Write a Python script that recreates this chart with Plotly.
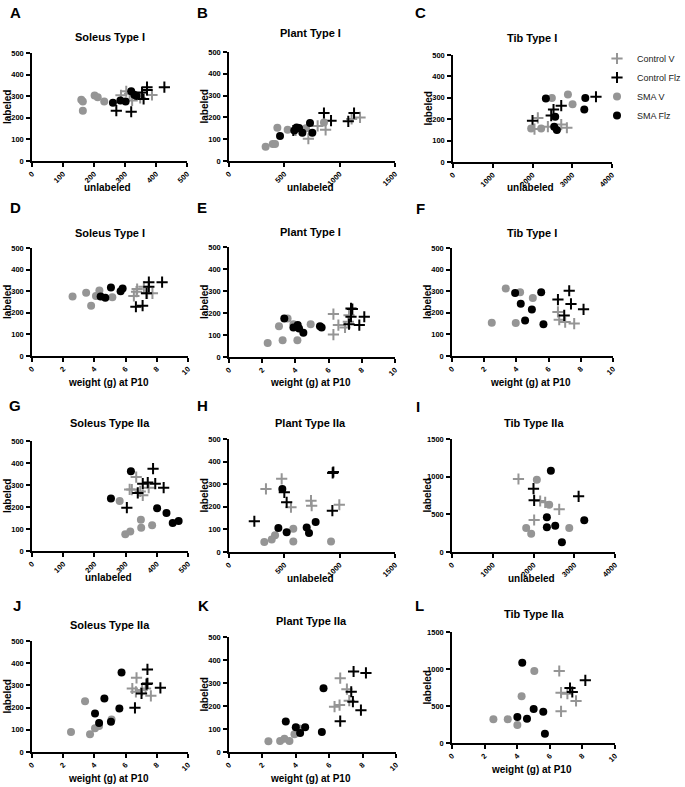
import plotly.graph_objects as go

# ---- data ----
# A: Soleus Type I, labeled vs unlabeled
A_cv_x = [287, 304, 323, 349, 387, 315]
A_cv_y = [304, 323, 280, 292, 306, 311]
A_cf_x = [272, 320, 355, 371, 371, 360, 427]
A_cf_y = [233, 228, 317, 342, 329, 287, 342]
A_sv_x = [159, 164, 164, 202, 212, 233]
A_sv_y = [284, 275, 233, 303, 295, 276]
A_sf_x = [261, 285, 302, 320, 330, 337]
A_sf_y = [270, 280, 276, 323, 307, 301]

# B: Plant Type I, labeled vs unlabeled
B_cv_x = [602, 717, 801, 873, 1108, 1184]
B_cv_y = [140, 102, 161, 143, 193, 200]
B_cf_x = [581, 858, 922, 1078, 1130]
B_cf_y = [140, 220, 185, 182, 220]
B_sv_x = [331, 395, 416, 437, 530, 696, 858]
B_sv_y = [65, 78, 78, 152, 143, 150, 177]
B_sf_x = [461, 590, 633, 663, 732, 753, 611]
B_sf_y = [115, 140, 151, 130, 174, 130, 154]

# C: Tib Type I, labeled vs unlabeled
C_cv_x = [2050, 2134, 2387, 2723, 2865]
C_cv_y = [154, 206, 165, 175, 160]
C_cf_x = [2000, 2471, 2529, 2723, 3597]
C_cf_y = [193, 217, 245, 263, 305]
C_sv_x = [1966, 2218, 2487, 2891, 3008]
C_sv_y = [157, 157, 299, 316, 270]
C_sf_x = [2336, 2571, 2546, 2613, 3328, 3303]
C_sf_y = [297, 212, 165, 149, 299, 245]

# D: Soleus Type I, labeled vs weight
D_cv_x = [6.53, 6.74, 7.17, 7.38, 7.72, 6.7]
D_cv_y = [278, 310, 321, 290, 290, 298]
D_cf_x = [6.66, 7.09, 7.34, 7.49, 7.49, 8.34]
D_cf_y = [228, 233, 290, 342, 321, 342]
D_sv_x = [2.6, 3.47, 3.79, 4.1, 4.32, 5.15]
D_sv_y = [275, 293, 233, 278, 303, 272]
D_sf_x = [4.4, 4.7, 5.06, 5.68, 5.81]
D_sf_y = [276, 270, 317, 300, 312]

# E: Plant Type I, labeled vs weight
E_cv_x = [6.29, 6.29, 6.59, 6.99, 7.19, 7.23]
E_cv_y = [195, 102, 145, 134, 160, 190]
E_cf_x = [7.35, 7.43, 7.35, 7.23, 7.85, 8.15]
E_cf_y = [221, 218, 183, 149, 145, 183]
E_sv_x = [2.33, 3.01, 3.23, 3.53, 3.88, 4.12, 4.92]
E_sv_y = [64, 140, 76, 175, 149, 76, 149]
E_sf_x = [3.33, 3.88, 4.14, 4.22, 4.48, 5.48, 5.58]
E_sf_y = [175, 134, 145, 130, 110, 140, 134]

# F: Tib Type I, labeled vs weight
F_cv_x = [6.58, 6.66, 7.03, 7.59]
F_cv_y = [204, 168, 157, 150]
F_cf_x = [6.58, 7.28, 7.39, 6.97, 8.17]
F_cf_y = [261, 302, 241, 188, 216]
F_sv_x = [2.47, 3.34, 3.96, 4.23, 5.02]
F_sv_y = [154, 312, 153, 295, 269]
F_sf_x = [3.92, 4.27, 4.54, 4.96, 5.54, 5.68]
F_sf_y = [292, 242, 164, 215, 295, 147]

# G: Soleus Type IIa, labeled vs unlabeled
G_cv_x = [313, 320, 334, 347, 355, 374]
G_cv_y = [280, 279, 336, 271, 253, 288]
G_cf_x = [304, 339, 355, 371, 388, 395, 422]
G_cf_y = [197, 264, 306, 311, 374, 306, 288]
G_sv_x = [299, 315, 281, 349, 350, 385]
G_sv_y = [76, 89, 227, 142, 106, 117]
G_sf_x = [253, 317, 401, 431, 451, 470]
G_sf_y = [239, 362, 194, 173, 127, 136]

# H: Plant Type IIa, labeled vs unlabeled
H_cv_x = [334, 476, 560, 741, 747, 997]
H_cv_y = [279, 324, 198, 227, 205, 209]
H_cf_x = [229, 500, 521, 934, 937, 943]
H_cf_y = [136, 264, 220, 183, 350, 354]
H_sv_x = [319, 386, 416, 581, 581, 922]
H_sv_y = [44, 55, 74, 103, 47, 47]
H_sf_x = [446, 521, 482, 702, 723, 783]
H_sf_y = [106, 87, 279, 108, 84, 133]

# I: Tib Type IIa, labeled vs unlabeled
I_cv_x = [1631, 2016, 2164, 2287, 2631]
I_cv_y = [969, 425, 677, 659, 566]
I_cf_x = [2000, 2016, 3107]
I_cf_y = [841, 686, 739]
I_sv_x = [1820, 1943, 2082, 2385, 2877]
I_sv_y = [319, 243, 960, 628, 319]
I_sf_x = [2426, 2328, 2328, 2533, 2697, 3246]
I_sf_y = [1080, 460, 327, 350, 128, 420]

# J: Soleus Type IIa, labeled vs weight
J_cv_x = [6.43, 6.66, 6.7, 7.06, 7.28, 7.62]
J_cv_y = [286, 271, 334, 279, 286, 253]
J_cf_x = [6.6, 7.02, 7.34, 7.4, 7.4, 8.23]
J_cf_y = [199, 264, 306, 372, 309, 289]
J_sv_x = [2.5, 3.4, 3.72, 4.04, 4.3, 5.1]
J_sv_y = [90, 229, 80, 107, 117, 146]
J_sf_x = [4.04, 4.3, 4.64, 5.06, 5.6, 5.74]
J_sf_y = [173, 131, 241, 136, 196, 358]

# K: Plant Type IIa, labeled vs weight
K_cv_x = [6.32, 6.62, 6.66, 7.06, 7.2]
K_cv_y = [197, 204, 321, 273, 223]
K_cf_x = [6.66, 7.32, 7.42, 7.9, 7.46, 8.2]
K_cf_y = [134, 262, 219, 182, 350, 344]
K_sv_x = [2.36, 3.06, 3.32, 3.62, 3.92, 4.2]
K_sv_y = [47, 48, 58, 48, 77, 102]
K_sf_x = [3.4, 4.0, 4.26, 4.56, 5.56, 5.66]
K_sf_y = [133, 108, 83, 108, 87, 277]

# L: Tib Type IIa, labeled vs weight
L_cv_x = [6.58, 6.69, 7.08, 6.69, 7.61]
L_cv_y = [973, 680, 667, 428, 568]
L_cf_x = [7.24, 7.38, 8.18]
L_cf_y = [743, 689, 847]
L_sv_x = [2.54, 3.42, 4.01, 4.27, 5.05]
L_sv_y = [320, 320, 243, 631, 973]
L_sf_x = [4.01, 4.31, 4.6, 5.01, 5.6, 5.7]
L_sf_y = [351, 1086, 329, 459, 423, 126]

group_names = ["Control V", "Control Flz", "SMA V", "SMA Flz"]

# ---- panel layout (pixel boxes in a 685x787 page) ----
W, H = 685, 787
panels = [
    # letter, title, xtitle, xmax, xticks, ymax, yticks, box(x0,x1,y0,y1), letter pos, title pos
    ("A", "Soleus Type I", "unlabeled", 500, [0, 100, 200, 300, 400, 500], 500,
     [0, 100, 200, 300, 400, 500], (32, 187, 53, 161), (15, 12), (110, 37),
     (A_cv_x, A_cv_y, A_cf_x, A_cf_y, A_sv_x, A_sv_y, A_sf_x, A_sf_y)),
    ("B", "Plant Type I", "unlabeled", 1500, [0, 500, 1000, 1500], 500,
     [0, 100, 200, 300, 400, 500], (229, 395, 52, 161), (202, 12), (310, 33),
     (B_cv_x, B_cv_y, B_cf_x, B_cf_y, B_sv_x, B_sv_y, B_sf_x, B_sf_y)),
    ("C", "Tib Type I", "unlabeled", 4000, [0, 1000, 2000, 3000, 4000], 500,
     [0, 100, 200, 300, 400, 500], (453, 612, 55, 162), (420, 12), (532, 38),
     (C_cv_x, C_cv_y, C_cf_x, C_cf_y, C_sv_x, C_sv_y, C_sf_x, C_sf_y)),
    ("D", "Soleus Type I", "weight (g) at P10", 10, [0, 2, 4, 6, 8, 10], 500,
     [0, 100, 200, 300, 400, 500], (32, 188, 248, 356), (15, 207), (110, 233),
     (D_cv_x, D_cv_y, D_cf_x, D_cf_y, D_sv_x, D_sv_y, D_sf_x, D_sf_y)),
    ("E", "Plant Type I", "weight (g) at P10", 10, [0, 2, 4, 6, 8, 10], 500,
     [0, 100, 200, 300, 400, 500], (229, 395, 247, 357), (202, 207), (310, 232),
     (E_cv_x, E_cv_y, E_cf_x, E_cf_y, E_sv_x, E_sv_y, E_sf_x, E_sf_y)),
    ("F", "Tib Type I", "weight (g) at P10", 10, [0, 2, 4, 6, 8, 10], 500,
     [0, 100, 200, 300, 400, 500], (452, 613, 248, 356), (420, 208), (532, 233),
     (F_cv_x, F_cv_y, F_cf_x, F_cf_y, F_sv_x, F_sv_y, F_sf_x, F_sf_y)),
    ("G", "Soleus Type IIa", "unlabeled", 500, [0, 100, 200, 300, 400, 500], 500,
     [0, 100, 200, 300, 400, 500], (32, 188, 441, 551), (15, 405), (110, 423),
     (G_cv_x, G_cv_y, G_cf_x, G_cf_y, G_sv_x, G_sv_y, G_sf_x, G_sf_y)),
    ("H", "Plant Type IIa", "unlabeled", 1500, [0, 500, 1000, 1500], 500,
     [0, 100, 200, 300, 400, 500], (229, 395, 439, 552), (202, 405), (310, 423),
     (H_cv_x, H_cv_y, H_cf_x, H_cf_y, H_sv_x, H_sv_y, H_sf_x, H_sf_y)),
    ("I", "Tib Type IIa", "unlabeled", 4000, [0, 1000, 2000, 3000, 4000], 1500,
     [0, 500, 1000, 1500], (452, 615, 439, 552), (418, 406), (534, 423),
     (I_cv_x, I_cv_y, I_cf_x, I_cf_y, I_sv_x, I_sv_y, I_sf_x, I_sf_y)),
    ("J", "Soleus Type IIa", "weight (g) at P10", 10, [0, 2, 4, 6, 8, 10], 500,
     [0, 100, 200, 300, 400, 500], (32, 188, 641, 752), (17, 605), (110, 625),
     (J_cv_x, J_cv_y, J_cf_x, J_cf_y, J_sv_x, J_sv_y, J_sf_x, J_sf_y)),
    ("K", "Plant Type IIa", "weight (g) at P10", 10, [0, 2, 4, 6, 8, 10], 500,
     [0, 100, 200, 300, 400, 500], (229, 396, 637, 752), (203, 605), (311, 621),
     (K_cv_x, K_cv_y, K_cf_x, K_cf_y, K_sv_x, K_sv_y, K_sf_x, K_sf_y)),
    ("L", "Tib Type IIa", "weight (g) at P10", 10, [0, 2, 4, 6, 8, 10], 1500,
     [0, 500, 1000, 1500], (452, 615, 632, 743), (419, 605), (534, 614),
     (L_cv_x, L_cv_y, L_cf_x, L_cf_y, L_sv_x, L_sv_y, L_sf_x, L_sf_y)),
]

GRAY = "#959595"
styles = [
    dict(symbol="cross-thin", size=8, color=GRAY, line=dict(color=GRAY, width=2)),
    dict(symbol="cross-thin", size=8, color="black", line=dict(color="black", width=2)),
    dict(symbol="circle", size=8, color=GRAY, line=dict(width=0)),
    dict(symbol="circle", size=8, color="black", line=dict(width=0)),
]

FONT = "Arial, Liberation Sans, sans-serif"
fig = go.Figure()
layout = {}
annotations = []


def label(text, x, y, size, bold=True, angle=0):
    return dict(
        text=text, x=x / W, y=1 - y / H, xref="paper", yref="paper",
        showarrow=False, xanchor="center", yanchor="middle", textangle=angle,
        font=dict(family=FONT, size=size, color="black", weight="bold" if bold else "normal"),
    )


for i, (letter, title, xtitle, xmax, xticks, ymax, yticks, box, lpos, tpos, data) in enumerate(panels):
    n = "" if i == 0 else str(i + 1)
    x0, x1, y0, y1 = box
    for g in range(4):
        fig.add_trace(go.Scatter(
            x=data[2 * g], y=data[2 * g + 1], mode="markers",
            marker=styles[g], name=group_names[g],
            showlegend=(i == 0), legendrank=g + 1,
            xaxis="x" + n, yaxis="y" + n, cliponaxis=False,
        ))
    axis_common = dict(
        showline=True, linecolor="black", linewidth=1.5, ticks="outside",
        ticklen=4, tickwidth=1.5, tickcolor="black", showgrid=False, zeroline=False,
        automargin=False,
        tickfont=dict(family=FONT, size=7.5, color="black", weight="bold"),
    )
    layout["xaxis" + n] = dict(
        axis_common, domain=[x0 / W, x1 / W], anchor="y" + n, range=[0, xmax],
        tickvals=xticks, tickangle=-45,
    )
    layout["yaxis" + n] = dict(
        axis_common, domain=[1 - y1 / H, 1 - y0 / H], anchor="x" + n, range=[0, ymax],
        tickvals=yticks, ticklabelstandoff=1,
    )
    annotations.append(label(letter, lpos[0], lpos[1], 15))
    annotations.append(label(title, tpos[0], tpos[1], 11))
    annotations.append(label(xtitle, (x0 + x1) / 2 - 2, y1 + 26, 10))
    annotations.append(label("labeled", x0 - 25, (y0 + y1) / 2, 10, angle=-90))

fig.update_layout(
    **layout,
    annotations=annotations,
    width=W, height=H,
    margin=dict(l=0, r=0, t=0, b=0, autoexpand=False),
    paper_bgcolor="white", plot_bgcolor="white",
    legend=dict(x=597 / W, y=1 - 44 / H, xanchor="left", yanchor="top",
                font=dict(family=FONT, size=9, color="#222"),
                tracegroupgap=0, itemwidth=30, bgcolor="rgba(0,0,0,0)"),
)

# page body has a default 8px margin; drop it so the figure fills the window
fig.write_html("out.html", config={"displayModeBar": False},
               post_script="document.body.style.margin = '0px';")
